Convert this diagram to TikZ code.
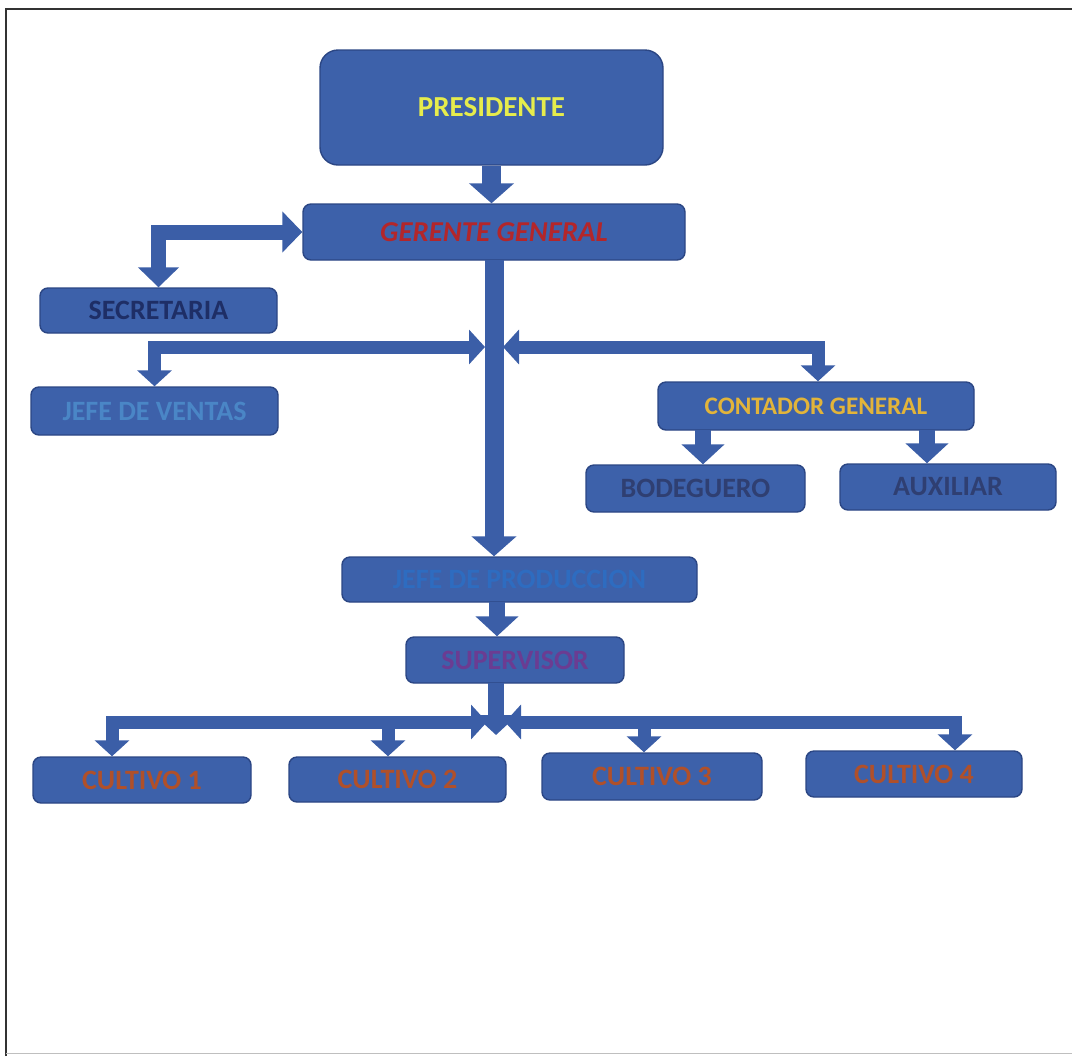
\documentclass[tikz,border=0pt]{standalone}
\usepackage{fontspec}
\setmainfont{Carlito}
\usetikzlibrary{arrows.meta}
\definecolor{boxblue}{HTML}{3D61AA}
\definecolor{boxedge}{HTML}{2B4684}
\definecolor{arrblue}{HTML}{3B5EA7}
\definecolor{txyellow}{HTML}{E6EC4C}
\definecolor{txred}{HTML}{B3262A}
\definecolor{txnavy}{HTML}{1E2E66}
\definecolor{txlight}{HTML}{4A86C6}
\definecolor{txgold}{HTML}{E2B43A}
\definecolor{txgray}{HTML}{2F3F72}
\definecolor{txprod}{HTML}{2E6CC0}
\definecolor{txpurple}{HTML}{6B3C92}
\definecolor{txbrown}{HTML}{B0502A}
\tikzset{
  orgbox/.style={draw=boxedge, fill=boxblue, line width=0.7pt, rounded corners=4pt,
    font=\bfseries\fontsize{14}{16}\selectfont, inner sep=0pt},
  bigarrow/.style={draw=arrblue, line width=9.5pt,
    -{Triangle[width=22pt,length=10pt]}},
  twoarrow/.style={draw=arrblue, line width=7.5pt,
    {Triangle[width=20pt,length=10pt]}-{Triangle[width=20pt,length=10pt]}},
  midarrow/.style={draw=arrblue, line width=8pt,
    -{Triangle[width=21pt,length=10pt]}},
  thinarrow/.style={draw=arrblue, line width=6.5pt,
    -{Triangle[width=17pt,length=8pt]}},
  thintwo/.style={draw=arrblue, line width=6.5pt,
    {Triangle[width=17pt,length=8pt]}-{Triangle[width=17pt,length=8pt]}},
}
\begin{document}
\begin{tikzpicture}[x=0.5pt, y=-0.5pt]
\useasboundingbox (0,0) rectangle (1072,1056);
% page frame
\draw[line width=1.4pt, draw=black!80] (6,1056) -- (6,9) -- (1072,9);
\draw[line width=0.5pt, draw=black!25] (6,1053) -- (1072,1053);

% boxes
\node[orgbox, rounded corners=9pt, minimum width=171.5pt, minimum height=57.5pt,
      text=txyellow, font=\bfseries\fontsize{14.5}{16}\selectfont] (pres) at (491.5,107.5) {PRESIDENTE};
\node[orgbox, minimum width=191pt, minimum height=28pt, text=txred,
      font=\bfseries\itshape\fontsize{14.4}{16}\selectfont] (ger) at (494,232) {GERENTE GENERAL};
\node[orgbox, minimum width=118.5pt, minimum height=22.5pt, text=txnavy] (sec) at (158.5,310.5) {SECRETARIA};
\node[orgbox, minimum width=123.5pt, minimum height=24pt, text=txlight] (jv) at (154.5,411) {JEFE DE VENTAS};
\node[orgbox, minimum width=158pt, minimum height=24pt, text=txgold,
      font=\bfseries\fontsize{12.6}{14}\selectfont] (cg) at (816,406) {CONTADOR GENERAL};
\node[orgbox, minimum width=109.5pt, minimum height=23.5pt, text=txgray] (bod) at (695.5,488.5) {BODEGUERO};
\node[orgbox, minimum width=108pt, minimum height=23pt, text=txgray] (aux) at (948,487) {AUXILIAR};
\node[orgbox, minimum width=177.5pt, minimum height=22.5pt, text=txprod] (jp) at (519.5,579.5) {JEFE DE PRODUCCION};
\node[orgbox, minimum width=109pt, minimum height=23pt, text=txpurple] (sv) at (515,660) {SUPERVISOR};
\node[orgbox, minimum width=109pt, minimum height=23pt, text=txbrown] (c1) at (142,780) {CULTIVO 1};
\node[orgbox, minimum width=108.5pt, minimum height=22.5pt, text=txbrown] (c2) at (397.5,779.5) {CULTIVO 2};
\node[orgbox, minimum width=110pt, minimum height=23.5pt, text=txbrown] (c3) at (652,776.5) {CULTIVO 3};
\node[orgbox, minimum width=108pt, minimum height=23pt, text=txbrown] (c4) at (914,774) {CULTIVO 4};

% connector anchor points
\coordinate (trunk) at (494,260);
\coordinate (tl) at (485,347);
\coordinate (tr) at (503,347);
\coordinate (dcg) at (818,347);
\coordinate (dbod) at (703,430);
\coordinate (daux) at (927,430);
\coordinate (djp) at (497,602);
\coordinate (dsv) at (496,683);
\coordinate (hl) at (487,722);
\coordinate (hr) at (505,722);
\coordinate (d1) at (112,722);
\coordinate (d2) at (388,722);
\coordinate (d3) at (644,722);
\coordinate (d4) at (955,722);

% connectors
\draw[bigarrow] (pres.south) -- (pres.south |- ger.north);
\draw[twoarrow] (sec.north) |- (ger.west);
\draw[bigarrow] (trunk) -- (trunk |- jp.north);
\draw[thintwo] (tl) -| (jv.north);
\draw[thintwo] (tr) -- (dcg) -- (dcg |- cg.north);
\draw[midarrow] (dbod) -- (dbod |- bod.north);
\draw[midarrow] (daux) -- (daux |- aux.north);
\draw[midarrow] (djp) -- (djp |- sv.north);
\draw[thintwo] (hl) -- (d1) -- (d1 |- c1.north);
\draw[thintwo] (hr) -- (d4) -- (d4 |- c4.north);
\draw[thinarrow] (d2) -- (d2 |- c2.north);
\draw[thinarrow] (d3) -- (d3 |- c3.north);
\draw[midarrow] (dsv) -- ++(0,52);
\end{tikzpicture}
\end{document}
